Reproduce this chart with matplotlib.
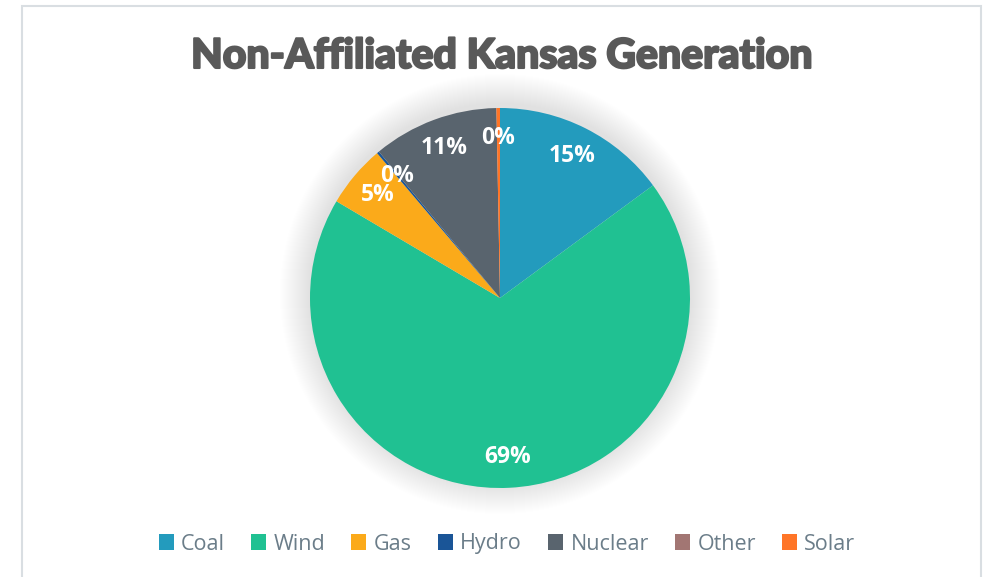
import matplotlib
matplotlib.use("Agg")
import matplotlib.pyplot as plt
from matplotlib.patches import Rectangle, Circle, Patch
import matplotlib.patheffects as pe
import numpy as np

categories = ["Coal", "Wind", "Gas", "Hydro", "Nuclear", "Other", "Solar"]
values = [14.9, 68.6, 5.3, 0.2, 10.7, 0.0, 0.3]
colors = ["#239BBD", "#20C192", "#FBAA1A", "#1A5597", "#59646E", "#A27673", "#FF7527"]
title = "Non-Affiliated Kansas Generation"

W, H = 987, 577
fig = plt.figure(figsize=(W / 100, H / 100), dpi=100)
fig.patch.set_facecolor("white")
ax = fig.add_axes([0, 0, 1, 1])
ax.set_xlim(0, W)
ax.set_ylim(0, H)
ax.set_aspect("equal")
ax.axis("off")

# chart border
ax.add_patch(Rectangle((21.5, -5), 959, H - 5.5 + 5, fill=False,
                       edgecolor="#D9DEE2", linewidth=1.5))

cx, cy, r = 500, H - 298, 190

# soft shadow/glow
n = 30
for i in range(n):
    ax.add_patch(Circle((cx, cy + 4), r + 30 - i, facecolor="black",
                        alpha=0.0045, edgecolor="none", zorder=1))

def fmt(p):
    return "" if p == 0 else f"{p:.0f}%"

wedges, texts, autotexts = ax.pie(
    values, colors=colors, startangle=90, counterclock=False,
    center=(cx, cy), radius=r, autopct=fmt, pctdistance=0.84,
    wedgeprops=dict(linewidth=0, zorder=2),
    textprops=dict(color="white", fontsize=16.5, fontweight="bold",
                   family="Open Sans"))
for w in wedges:
    w.set_zorder(2)
for t in autotexts:
    t.set_zorder(5)

ax.set_xlim(0, W)
ax.set_ylim(0, H)

fig.text(502 / W, 1 - 56 / H, title, ha="center", va="center",
         fontsize=29.5, fontweight="black", family="Lato", color="#595959",
         path_effects=[pe.withStroke(linewidth=1.5, foreground="#595959")])

handles = [Patch(facecolor=c, edgecolor="none") for c in colors]
leg = fig.legend(handles, categories, loc="center", ncol=7,
                 bbox_to_anchor=(507 / W, 1 - 544 / H), frameon=False,
                 prop=dict(family="Open Sans", size=15.5),
                 handlelength=0.7, handleheight=0.7, handletextpad=0.35,
                 columnspacing=1.2)
for t in leg.get_texts():
    t.set_color("#6B7D89")

fig.savefig("out.png", dpi=100, facecolor="white")
